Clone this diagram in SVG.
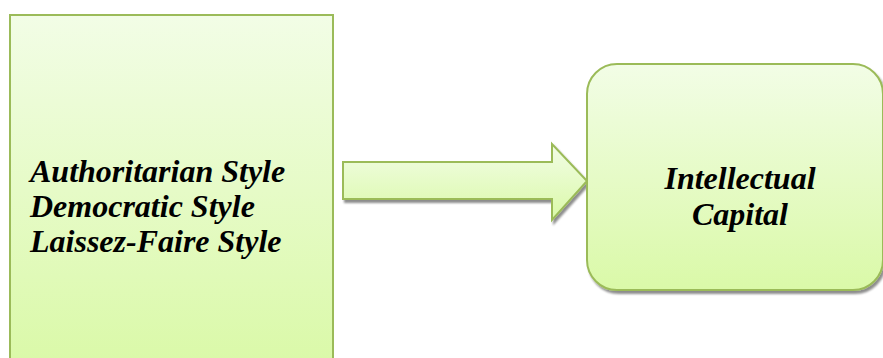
<svg xmlns="http://www.w3.org/2000/svg" width="883" height="358" viewBox="0 0 883 358">
<defs>
<linearGradient id="g" x1="0" y1="0" x2="0" y2="1">
<stop offset="0" stop-color="#f2fde6"/>
<stop offset="1" stop-color="#daf9a8"/>
</linearGradient>
<filter id="sh" x="-10%" y="-10%" width="130%" height="130%">
<feGaussianBlur in="SourceAlpha" stdDeviation="1"/>
<feOffset dx="2" dy="3" result="o"/>
<feComponentTransfer><feFuncA type="linear" slope="0.45"/></feComponentTransfer>
<feMerge><feMergeNode/><feMergeNode in="SourceGraphic"/></feMerge>
</filter>
</defs>
<style>
.box{fill:url(#g);stroke:#9bbb59;stroke-width:2}
.t{font-family:"Liberation Serif","Times New Roman",serif;font-weight:bold;font-style:italic;font-size:32px;fill:#000}
</style>
<rect width="883" height="358" fill="#fff"/>
<g id="styles">
<rect class="box" x="10" y="15" width="323" height="350"/>
<text class="t" x="30" y="182">Authoritarian Style</text>
<text class="t" x="30" y="217">Democratic Style</text>
<text class="t" x="30" y="252">Laissez-Faire Style</text>
</g>
<g id="connectors">
<path class="box" filter="url(#sh)" d="M343,162 L552,162 L552,144 L587,181 L552,220 L552,199 L343,199 Z"/>
</g>
<g id="capital">
<rect class="box" filter="url(#sh)" x="587" y="64" width="296" height="226" rx="30" ry="30"/>
<text class="t" x="740" y="189" text-anchor="middle">Intellectual</text>
<text class="t" x="740" y="225" text-anchor="middle">Capital</text>
</g>
</svg>
